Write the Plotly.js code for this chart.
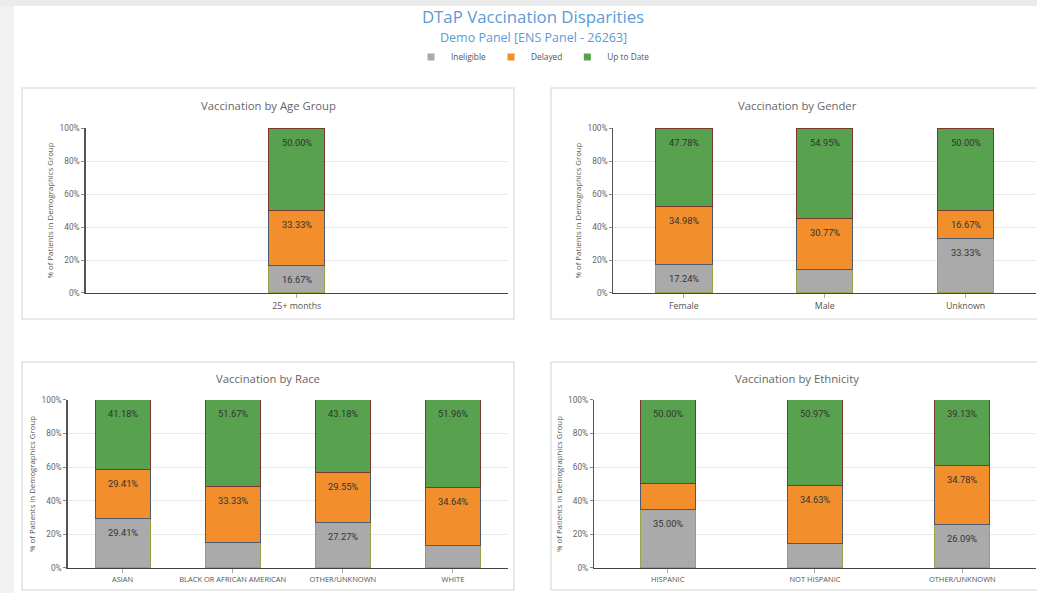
<!DOCTYPE html>
<html>
<head>
<meta charset="utf-8">
<script src="https://cdn.plot.ly/plotly-3.0.1.min.js"></script>
<style>
html,body{margin:0;padding:0;background:#fff;}
#chart{width:1037px;height:593px;}
</style>
</head>
<body>
<div id="chart"></div>
<script>
// ---- Data ----
const seriesNames = ['Ineligible', 'Delayed', 'Up to Date'];

const ageCategories = ['25+ months'];
const ageIneligible = [16.67];
const ageDelayed = [33.33];
const ageUpToDate = [50.00];

const genderCategories = ['Female', 'Male', 'Unknown'];
const genderIneligible = [17.24, 14.28, 33.33];
const genderDelayed = [34.98, 30.77, 16.67];
const genderUpToDate = [47.78, 54.95, 50.00];

const raceCategories = ['ASIAN', 'BLACK OR AFRICAN AMERICAN', 'OTHER/UNKNOWN', 'WHITE'];
const raceIneligible = [29.41, 15.00, 27.27, 13.40];
const raceDelayed = [29.41, 33.33, 29.55, 34.64];
const raceUpToDate = [41.18, 51.67, 43.18, 51.96];

const ethnicityCategories = ['HISPANIC', 'NOT HISPANIC', 'OTHER/UNKNOWN'];
const ethnicityIneligible = [35.00, 14.40, 26.09];
const ethnicityDelayed = [15.00, 34.63, 34.78];
const ethnicityUpToDate = [50.00, 50.97, 39.13];

const yTickValues = [0, 20, 40, 60, 80, 100];
const yTickLabels = ['0%', '20%', '40%', '60%', '80%', '100%'];

const chartTitle = 'DTaP Vaccination Disparities';
const chartSubtitle = 'Demo Panel [ENS Panel - 26263]';
const yAxisTitle = '% of Patients in Demographics Group';
const panelTitles = ['Vaccination by Age Group', 'Vaccination by Gender', 'Vaccination by Race', 'Vaccination by Ethnicity'];

// ---- Styles ----
const colors = ['#aaaaaa', '#f28e2c', '#58a14e'];
const outline = ['#9aa24a', '#4d5a6e', '#7a3a30'];
const FONT = '"Open Sans", sans-serif';

const panels = [
  {cats: ageCategories, vals: [ageIneligible, ageDelayed, ageUpToDate], w: 0.132,
   xd: [0.0825, 0.4899], yd: [0.5059, 0.7841], tx: 268, ty: 105},
  {cats: genderCategories, vals: [genderIneligible, genderDelayed, genderUpToDate], w: 0.40,
   xd: [0.5916, 0.999], yd: [0.5059, 0.7841], tx: 797, ty: 105},
  {cats: raceCategories, vals: [raceIneligible, raceDelayed, raceUpToDate], w: 0.50,
   xd: [0.0651, 0.4899], yd: [0.0422, 0.3255], tx: 268, ty: 378},
  {cats: ethnicityCategories, vals: [ethnicityIneligible, ethnicityDelayed, ethnicityUpToDate], w: 0.375,
   xd: [0.5728, 0.999], yd: [0.0422, 0.3255], tx: 797, ty: 378}
];

const W = 1037, H = 593;
const traces = [];
const annotations = [];
const layout = {
  width: W, height: H,
  margin: {l: 0, r: 0, t: 0, b: 0},
  paper_bgcolor: '#ffffff',
  plot_bgcolor: 'rgba(0,0,0,0)',
  barmode: 'stack',
  showlegend: true,
  font: {family: FONT, color: '#555'},
  title: {
    text: chartTitle,
    font: {family: FONT, size: 16.8, color: '#5b9bd5'},
    x: 0.514, xanchor: 'center', y: 1 - 17 / H, yanchor: 'middle'
  },
  legend: {
    orientation: 'h', x: 0.514, xanchor: 'center', y: 1 - 57 / H, yanchor: 'middle',
    font: {family: FONT, size: 8.3, color: '#555'}, itemwidth: 30, traceorder: 'normal',
    bgcolor: 'rgba(0,0,0,0)', tracegroupgap: 0
  },
  shapes: [
    {type: 'rect', xref: 'paper', yref: 'paper', x0: 0, x1: 14 / W, y0: 0, y1: 1, fillcolor: '#f1f1f1', line: {width: 0}, layer: 'below'},
    {type: 'rect', xref: 'paper', yref: 'paper', x0: 0, x1: 1, y0: 1 - 6 / H, y1: 1, fillcolor: '#ebebeb', line: {width: 0}, layer: 'below'},
    {type: 'rect', xref: 'paper', yref: 'paper', x0: 22 / W, x1: 514 / W, y0: 1 - 319 / H, y1: 1 - 88 / H, line: {color: '#e2e2e2', width: 1.5}, layer: 'below'},
    {type: 'rect', xref: 'paper', yref: 'paper', x0: 551 / W, x1: 1.02, y0: 1 - 319 / H, y1: 1 - 88 / H, line: {color: '#e2e2e2', width: 1.5}, layer: 'below'},
    {type: 'rect', xref: 'paper', yref: 'paper', x0: 22 / W, x1: 514 / W, y0: 1 - 590 / H, y1: 1 - 362 / H, line: {color: '#e2e2e2', width: 1.5}, layer: 'below'},
    {type: 'rect', xref: 'paper', yref: 'paper', x0: 551 / W, x1: 1.02, y0: 1 - 590 / H, y1: 1 - 362 / H, line: {color: '#e2e2e2', width: 1.5}, layer: 'below'}
  ],
  annotations: annotations
};

annotations.push({
  xref: 'paper', yref: 'paper', x: 0.514, y: 1 - 38 / H, xanchor: 'center', yanchor: 'middle',
  text: chartSubtitle, showarrow: false, font: {family: FONT, size: 12.5, color: '#5b9bd5'}
});

// legend-only entries with small square swatches
seriesNames.forEach((name, s) => {
  traces.push({
    type: 'scatter', mode: 'markers', name: name, x: [null], y: [null],
    marker: {symbol: 'square', size: 7, color: colors[s]},
    legendgroup: name, showlegend: true, hoverinfo: 'skip'
  });
});

panels.forEach((p, i) => {
  const n = i + 1;
  const xa = n === 1 ? 'x' : 'x' + n;
  const ya = n === 1 ? 'y' : 'y' + n;
  const cum = p.cats.map(() => 0);
  p.vals.forEach((vals, s) => {
    traces.push({
      type: 'bar', name: seriesNames[s], x: p.cats, y: vals,
      xaxis: xa, yaxis: ya,
      width: p.cats.map(() => p.w),
      marker: {color: colors[s], line: {color: outline[s], width: 1}},
      legendgroup: seriesNames[s], showlegend: false,
      hoverinfo: 'x+y+name'
    });
    vals.forEach((v, k) => {
      cum[k] += v;
      if (v >= 16) {
        annotations.push({
          xref: xa, yref: ya, x: p.cats[k], y: cum[k], yshift: -14,
          text: v.toFixed(2) + '%', showarrow: false,
          font: {family: 'Roboto, sans-serif', size: 9.3, color: '#333'}
        });
      }
    });
  });
  annotations.push({
    xref: 'paper', yref: 'paper', x: p.tx / W, y: 1 - p.ty / H, xanchor: 'center', yanchor: 'middle',
    text: panelTitles[i], showarrow: false, font: {family: FONT, size: 11.3, color: '#666'}
  });
  layout['xaxis' + (n === 1 ? '' : n)] = {
    domain: p.xd, anchor: ya, type: 'category', range: [-0.5, p.cats.length - 0.5],
    showline: true, linecolor: '#444', linewidth: 1.2, showgrid: false, zeroline: false,
    ticks: 'outside', ticklen: 4, tickcolor: '#aaa',
    tickfont: {family: FONT, size: n === 1 || n === 2 ? 8.8 : 7.5, color: '#555'}, fixedrange: true
  };
  layout['yaxis' + (n === 1 ? '' : n)] = {
    domain: p.yd, anchor: xa, range: [0, 100], tickmode: 'array', tickvals: yTickValues, ticktext: yTickLabels,
    showline: true, linecolor: '#555', linewidth: 1.2, showgrid: true, gridcolor: '#e8e8e8', zeroline: false,
    ticks: 'outside', ticklen: 3, tickcolor: '#888',
    tickfont: {family: 'Roboto, sans-serif', size: 8.3, color: '#666'},
    title: {text: yAxisTitle, font: {family: FONT, size: 7.8, color: '#555'}, standoff: 4},
    automargin: false, fixedrange: true
  };
});

Plotly.newPlot('chart', traces, layout, {displayModeBar: false, staticPlot: true});
</script>
</body>
</html>
